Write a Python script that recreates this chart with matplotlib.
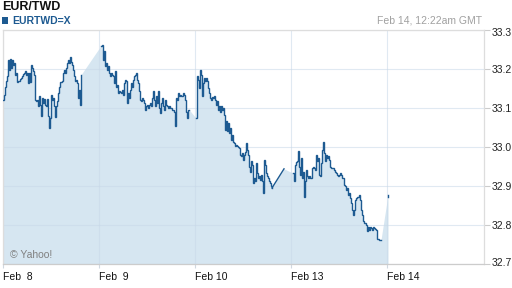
import numpy as np
import matplotlib
matplotlib.use("Agg")
import matplotlib.pyplot as plt
from matplotlib.patches import Rectangle
from matplotlib.transforms import offset_copy

plt.rcParams['font.family'] = ['Liberation Sans', 'DejaVu Sans']

# ---- data (15-minute slots since the Feb 8 open; EUR/TWD rate) ----
seg_a_start = 0
seg_a = [33.121, 33.134, 33.155, 33.168, 33.181, 33.224, 33.198, 33.226, 33.203, 33.224,
         33.211, 33.215, 33.185, 33.190, 33.166, 33.168, 33.170, 33.174, 33.178, 33.183,
         33.186, 33.191, 33.194, 33.185, 33.191, 33.164, 33.190, 33.166, 33.211, 33.203,
         33.194, 33.185, 33.121, 33.117, 33.121, 33.104, 33.130, 33.108, 33.080, 33.126,
         33.113, 33.123, 33.108, 33.104, 33.123, 33.080, 33.049, 33.074, 33.134, 33.121,
         33.126, 33.104, 33.078, 33.104, 33.117, 33.138, 33.155, 33.166, 33.167, 33.168,
         33.190, 33.198, 33.190, 33.203, 33.215, 33.224, 33.215, 33.231, 33.219, 33.211,
         33.198, 33.181, 33.168, 33.173, 33.164, 33.126, 33.147, 33.108, 33.185]

seg_b_start = 98
seg_b = [33.260, 33.262, 33.224, 33.245, 33.207, 33.215, 33.198, 33.207, 33.190, 33.181,
         33.190, 33.185, 33.181, 33.164, 33.194, 33.155, 33.160, 33.138, 33.143, 33.140,
         33.138, 33.147, 33.134, 33.164, 33.173, 33.168, 33.113, 33.138, 33.126, 33.147,
         33.164, 33.155, 33.173, 33.181, 33.185, 33.190, 33.173, 33.164, 33.143, 33.121,
         33.117, 33.126, 33.121, 33.113, 33.096, 33.104, 33.108, 33.100, 33.108, 33.113,
         33.104, 33.126, 33.143, 33.121, 33.104, 33.130, 33.113, 33.143, 33.100, 33.087,
         33.113, 33.126, 33.104, 33.096, 33.121, 33.108, 33.104, 33.100, 33.104, 33.100,
         33.100, 33.096, 33.096, 33.091, 33.053, 33.126, 33.121, 33.138, 33.130, 33.134,
         33.130, 33.132, 33.138, 33.134, 33.121, 33.091, 33.074, 33.094, 33.096]

seg_c_start = 193
seg_c = [33.074, 33.181, 33.173, 33.151, 33.198, 33.185, 33.130, 33.164, 33.177, 33.168,
         33.177, 33.168, 33.151, 33.138, 33.126, 33.121, 33.127, 33.126, 33.130, 33.121,
         33.108, 33.117, 33.096, 33.104, 33.091, 33.104, 33.096, 33.100, 33.083, 33.044,
         33.066, 33.040, 33.062, 33.036, 33.049, 33.019, 33.032, 33.014, 33.010, 33.002,
         33.006, 33.002, 32.999, 32.997, 32.980, 32.976, 32.985, 32.967, 32.980, 32.987,
         33.010, 32.993, 32.980, 32.950, 32.937, 32.963, 32.955, 32.908, 32.921, 32.912,
         32.959, 32.933, 32.921, 32.925, 32.916, 32.929, 32.912, 32.882, 32.967, 32.955,
         32.933, 32.925, 32.921, 32.912, 32.908, 32.901, 32.895]
seg_c_end_slot = 281
seg_c_end_price = 32.944

seg_d_start = 290
seg_d = [32.933, 32.912, 32.955, 32.962, 32.965, 32.989, 32.950, 32.929, 32.972, 32.921,
         32.937, 32.873, 32.912, 32.942, 32.925, 32.921, 32.925, 32.921, 32.921, 32.946,
         32.948, 32.946, 32.942, 32.980, 32.963, 32.972, 32.929, 32.925, 32.959, 32.993,
         33.014, 32.985, 32.963, 32.980, 32.972, 32.976, 32.967, 32.950, 32.946, 32.946,
         32.946, 32.942, 32.937, 32.933, 32.929, 32.925, 32.929, 32.933, 32.929, 32.921,
         32.921, 32.903, 32.899, 32.891, 32.895, 32.878, 32.882, 32.869, 32.856, 32.839,
         32.826, 32.839, 32.865, 32.869, 32.873, 32.873, 32.878, 32.865, 32.839, 32.826,
         32.809, 32.805, 32.805, 32.801, 32.784, 32.796, 32.788, 32.796, 32.792, 32.788,
         32.796, 32.792, 32.790, 32.786, 32.765, 32.765, 32.762, 32.762, 32.762]

last_slot = 385
last_price = 32.878

day_slots = [0, 96, 192, 288, 384]
day_labels = ["Feb  8", "Feb  9", "Feb 10", "Feb 13", "Feb 14"]
y_ticks = [32.7, 32.8, 32.9, 33.0, 33.1, 33.2, 33.3]

LINE = "#1d5a91"
FILL = "#d6e6f1"

fig = plt.figure(figsize=(5.12, 2.88), dpi=100)
fig.patch.set_facecolor("white")
ax = fig.add_axes([3 / 512, 24 / 288, 481 / 512, 234 / 288])

xa = seg_a_start + np.arange(len(seg_a))
xb = seg_b_start + np.arange(len(seg_b))
xc = seg_c_start + np.arange(len(seg_c))
xd = seg_d_start + np.arange(len(seg_d))

fx = np.concatenate([xa, xb, xc, [seg_c_end_slot], xd, [last_slot]])
fy = np.concatenate([seg_a, seg_b, seg_c, [seg_c_end_price], seg_d, [last_price]])
ax.fill_between(fx, fy, 32.6, color=FILL, lw=0, zorder=1)

for xs, ys in [(xa, seg_a), (xb, seg_b), (xc, seg_c), (xd, seg_d)]:
    ax.plot(xs, ys, color=LINE, lw=1.0, drawstyle="steps-post", zorder=3,
            solid_joinstyle="miter")
ax.plot([xc[-1], seg_c_end_slot], [seg_c[-1], seg_c_end_price], color=LINE, lw=1.0, zorder=3)
ax.plot([last_slot, last_slot], [last_price, last_price - 0.006], color=LINE, lw=1.0, zorder=3)

ax.set_xlim(0, 481)
ax.set_ylim(32.7, 33.3)

ax.set_axisbelow("line")
ax.set_xticks(day_slots)
ax.set_xticklabels(day_labels, ha="left")
ax.set_yticks(y_ticks)
ax.set_yticklabels([f"{v:.1f}" for v in y_ticks])
ax.yaxis.tick_right()
ax.grid(True, color="#c8d8e8", alpha=0.55, lw=0.8)
ax.tick_params(axis="x", length=3, width=0.8, color="#d0d8e0", pad=2.5,
               labelsize=7.5, labelcolor="#111111")
ax.tick_params(axis="y", length=4, width=0.8, color="#cccccc", pad=1.5,
               labelsize=7.5, labelcolor="#222222")
for lab in ax.get_xticklabels():
    lab.set_horizontalalignment("left")
ylabs = ax.get_yticklabels()
ylabs[0].set_transform(offset_copy(ylabs[0].get_transform(), fig=fig, y=2.5, units="dots"))
ylabs[-1].set_transform(offset_copy(ylabs[-1].get_transform(), fig=fig, y=-2.0, units="dots"))

for side in ["left", "right", "top", "bottom"]:
    ax.spines[side].set_color("#dddddd")
    ax.spines[side].set_linewidth(0.9)
ax.spines["bottom"].set_color("#cccccc")

ax.text(6.7 / 481, 9 / 234, "\u00a9 Yahoo!", transform=ax.transAxes, fontsize=7.5,
        color="#808080", va="center", ha="left", zorder=4)

fig.text(2 / 512, 1 - 6.8 / 288, "EUR/TWD", fontsize=9, fontweight="bold",
         color="#111111", va="center", ha="left")
fig.add_artist(Rectangle((2 / 512, 1 - 24 / 288), 6 / 512, 7 / 288,
                         transform=fig.transFigure, color=LINE, lw=0))
fig.text(12.5 / 512, 1 - 20.5 / 288, "EURTWD=X", fontsize=7.5, fontweight="bold",
         color=LINE, va="center", ha="left")
fig.text(482 / 512, 1 - 20.5 / 288, "Feb 14, 12:22am GMT", fontsize=7.5,
         color="#a0a0a0", va="center", ha="right")

fig.savefig("out.png", dpi=100, facecolor="white")
